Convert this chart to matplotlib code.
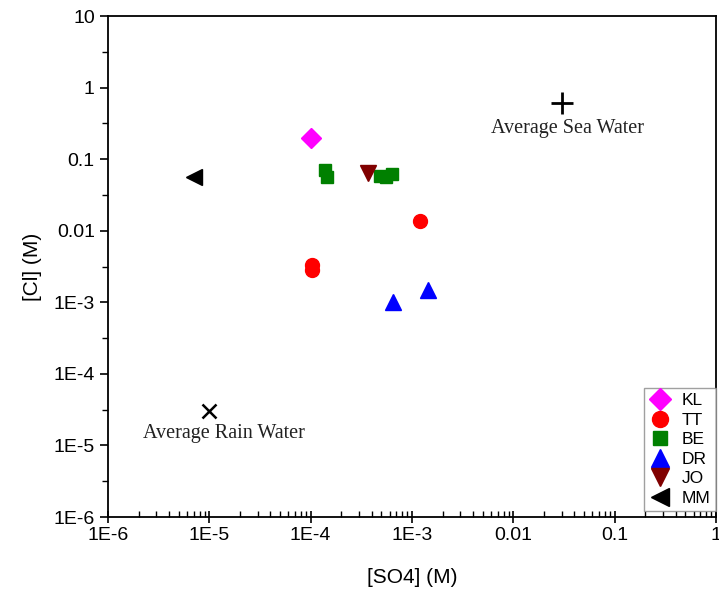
import matplotlib.pyplot as plt
from matplotlib.ticker import LogLocator, FixedLocator, NullFormatter

# sample data
kl_so4 = [1.0e-4]
kl_cl = [0.20]

tt_so4 = [1.2e-3, 1.02e-4, 1.03e-4]
tt_cl = [0.0135, 3.3e-3, 2.8e-3]

be_so4 = [1.4e-4, 1.45e-4, 4.8e-4, 5.5e-4, 6.3e-4]
be_cl = [0.070, 0.057, 0.058, 0.056, 0.062]

dr_so4 = [6.5e-4, 1.45e-3]
dr_cl = [1.0e-3, 1.5e-3]

jo_so4 = [3.7e-4]
jo_cl = [0.065]

mm_so4 = [7.0e-6]
mm_cl = [0.056]

# reference waters
sea_so4, sea_cl = 0.03, 0.6
rain_so4, rain_cl = 1.0e-5, 3.0e-5

x_ticks = [1e-6, 1e-5, 1e-4, 1e-3, 1e-2, 1e-1, 1]
x_labels = ['1E-6', '1E-5', '1E-4', '1E-3', '0.01', '0.1', '1']
y_ticks = [1e-6, 1e-5, 1e-4, 1e-3, 1e-2, 1e-1, 1, 10]
y_labels = ['1E-6', '1E-5', '1E-4', '1E-3', '0.01', '0.1', '1', '10']

plt.rcParams['font.family'] = ['Liberation Sans', 'DejaVu Sans']

fig = plt.figure(figsize=(7.19, 5.92), dpi=100)
ax = fig.add_axes([108 / 719, 1 - 517 / 592, 608 / 719, 501 / 592])

ax.plot(kl_so4, kl_cl, 'D', color='#ff00ff', markersize=10, linestyle='none', label='KL')
ax.plot(tt_so4, tt_cl, 'o', color='#ff0000', markersize=10, linestyle='none', label='TT')
ax.plot(be_so4, be_cl, 's', color='#008000', markersize=9, linestyle='none', label='BE')
ax.plot(dr_so4, dr_cl, '^', color='#0000ff', markersize=11, linestyle='none', label='DR')
ax.plot(jo_so4, jo_cl, 'v', color='#800000', markersize=11, linestyle='none', label='JO')
ax.plot(mm_so4, mm_cl, '<', color='black', markersize=11, linestyle='none', label='MM')

ax.plot([sea_so4], [sea_cl], '+', color='black', markersize=16, markeredgewidth=2)
ax.plot([rain_so4], [rain_cl], 'x', color='black', markersize=10, markeredgewidth=1.8)
ax.text(sea_so4 * 1.15, sea_cl * 0.44, 'Average Sea Water', family='Liberation Serif',
        fontsize=14.5, ha='center', va='center', color='#222222')
ax.text(rain_so4 * 1.4, rain_cl * 0.49, 'Average Rain Water', family='Liberation Serif',
        fontsize=14.5, ha='center', va='center', color='#222222')

ax.set_xscale('log')
ax.set_yscale('log')
ax.set_xlim(1e-6, 1)
ax.set_ylim(1e-6, 10)

ax.xaxis.set_major_locator(FixedLocator(x_ticks))
ax.set_xticklabels(x_labels)
ax.yaxis.set_major_locator(FixedLocator(y_ticks))
ax.set_yticklabels(y_labels)
ax.xaxis.set_minor_locator(LogLocator(base=10, subs=range(2, 10), numticks=20))
ax.yaxis.set_minor_locator(LogLocator(base=10, subs=[10 ** 0.5], numticks=20))
ax.xaxis.set_minor_formatter(NullFormatter())
ax.yaxis.set_minor_formatter(NullFormatter())

ax.tick_params(axis='x', which='major', direction='inout', length=8, width=1.2, labelsize=14)
ax.tick_params(axis='x', which='minor', direction='in', length=4, width=1)
ax.tick_params(axis='y', which='major', direction='out', length=6, width=1.2, labelsize=14)
ax.tick_params(axis='y', which='minor', direction='out', length=4, width=1)
for s in ax.spines.values():
    s.set_linewidth(1.3)

ax.set_xlabel('[SO4] (M)', fontsize=15, labelpad=17)
ax.set_ylabel('[Cl] (M)', fontsize=15, labelpad=8)

ax.legend(loc='lower right', bbox_to_anchor=(1.0, 0.012), fontsize=12.5, frameon=True,
          fancybox=False, edgecolor='#888888', handletextpad=0.6, labelspacing=0.25,
          borderaxespad=0.0, handlelength=1.3, markerscale=1.15, borderpad=0.3)

plt.savefig('out.png', dpi=100)
